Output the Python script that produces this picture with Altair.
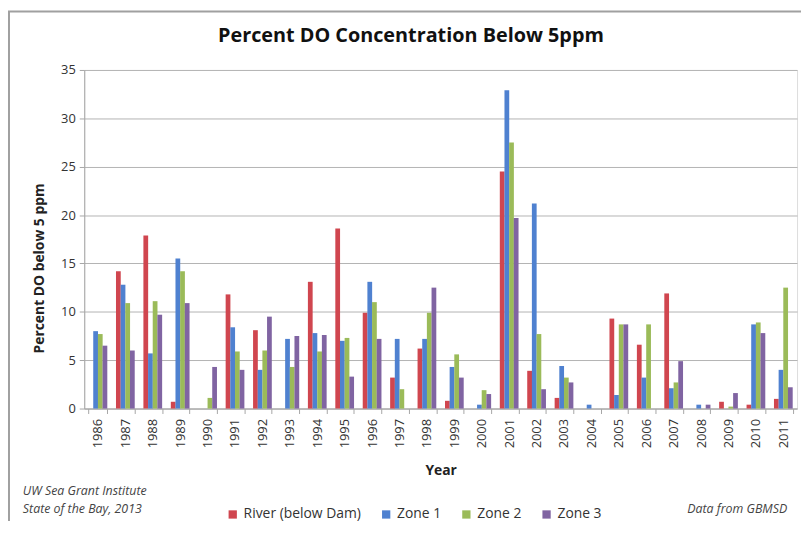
import altair as alt
import pandas as pd

years = [str(y) for y in range(1986, 2012)]
series = ["River (below Dam)", "Zone 1", "Zone 2", "Zone 3"]
colors = ["#d0464f", "#4f81d0", "#9bbb59", "#8064a2"]

river = [0, 14.2, 17.9, 0.7, 0, 11.8, 8.1, 0, 13.1, 18.6, 9.9, 3.2, 6.2, 0.8, 0, 24.5, 3.9, 1.1, 0, 9.3, 6.6, 11.9, 0, 0.7, 0.4, 1.0]
zone1 = [8.0, 12.8, 5.7, 15.5, 0, 8.4, 4.0, 7.2, 7.8, 7.0, 13.1, 7.2, 7.2, 4.3, 0.4, 32.9, 21.2, 4.4, 0.4, 1.4, 3.2, 2.1, 0.4, 0, 8.7, 4.0]
zone2 = [7.7, 10.9, 11.1, 14.2, 1.1, 5.9, 6.0, 4.3, 5.9, 7.3, 11.0, 2.0, 9.9, 5.6, 1.9, 27.5, 7.7, 3.2, 0, 8.7, 8.7, 2.7, 0, 0.2, 8.9, 12.5]
zone3 = [6.5, 6.0, 9.7, 10.9, 4.3, 4.0, 9.5, 7.5, 7.6, 3.3, 7.2, 0, 12.5, 3.2, 1.5, 19.7, 2.0, 2.7, 0, 8.7, 0, 4.9, 0.4, 1.6, 7.8, 2.2]

y_ticks = [0, 5, 10, 15, 20, 25, 30, 35]

title_text = "Percent DO Concentration Below 5ppm"
x_title = "Year"
y_title = "Percent DO below 5 ppm"
note_left = ["UW Sea Grant Institute", "State of the Bay, 2013"]
note_right = "Data from GBMSD"

rows = []
for vals, s in zip([river, zone1, zone2, zone3], series):
    for yr, v in zip(years, vals):
        rows.append({"Year": yr, "Series": s, "Value": v})
df = pd.DataFrame(rows)

FONT = "Open Sans"

bars = alt.Chart(df).mark_bar(size=4.8).encode(
    x=alt.X("Year:N", sort=years, scale=alt.Scale(paddingInner=0.32, paddingOuter=0.16),
            axis=alt.Axis(title=x_title, labelAngle=270, labelFontSize=13, labelColor="#333333",
                          labelPadding=5, tickBand="extent", tickSize=5, tickColor="#a6a6a6",
                          domainColor="#a6a6a6", titleFontSize=14, titleFontWeight="bold",
                          titleColor="#222222", titleY=63, titleBaseline="middle", titleFont=FONT,
                          labelFont=FONT)),
    xOffset=alt.XOffset("Series:N", sort=series, scale=alt.Scale(domain=series)),
    y=alt.Y("Value:Q", scale=alt.Scale(domain=[0, 35], nice=False),
            axis=alt.Axis(title=y_title, values=y_ticks, grid=True, gridColor="#b3b3b3",
                          labelFontSize=13, labelColor="#333333", labelPadding=4, tickSize=5,
                          tickColor="#a6a6a6", domainColor="#a6a6a6", titleFontSize=14,
                          titleFontWeight="bold", titleColor="#222222", titleAngle=270,
                          titleX=-45, titleY=200, titleAlign="center", titleBaseline="middle",
                          titleFont=FONT, labelFont=FONT)),
    color=alt.Color("Series:N", sort=series, scale=alt.Scale(domain=series, range=colors),
                    legend=alt.Legend(title=None, orient="none", legendX=143, legendY=442,
                                      direction="horizontal", symbolType="square", symbolSize=70,
                                      symbolStrokeWidth=0, labelFontSize=14, labelFont=FONT,
                                      labelColor="#333333", columnPadding=18, labelOffset=4)),
)

blank = alt.Data(values=[{"k": 1}])

frame = alt.Chart(blank).mark_rect(fill=None, stroke="#a0a0a0", strokeWidth=2).encode(
    x=alt.value(-76), x2=alt.value(760), y=alt.value(-59), y2=alt.value(500)
)

title_mark = alt.Chart(blank).mark_text(
    text=title_text, align="center", baseline="middle", fontSize=20, fontWeight="bold",
    font=FONT, color="#111111"
).encode(x=alt.value(330), y=alt.value(-34))

left_note = alt.Chart(blank).mark_text(
    text=note_left, align="left", baseline="middle", fontStyle="italic", fontSize=12.5,
    font=FONT, color="#444444", lineHeight=19
).encode(x=alt.value(-62), y=alt.value(425))

right_note = alt.Chart(blank).mark_text(
    text=note_right, align="right", baseline="middle", fontStyle="italic", fontSize=12.5,
    font=FONT, color="#444444"
).encode(x=alt.value(710), y=alt.value(444))

chart = alt.layer(frame, bars, title_mark, left_note, right_note).properties(
    width=720, height=342,
    autosize=alt.AutoSizeParams(type="none"),
    padding={"left": 77, "top": 60, "right": 4, "bottom": 111},
).configure_view(stroke=None).configure(background="white")

chart.save("out.html", embed_options={"renderer": "svg", "actions": False})
